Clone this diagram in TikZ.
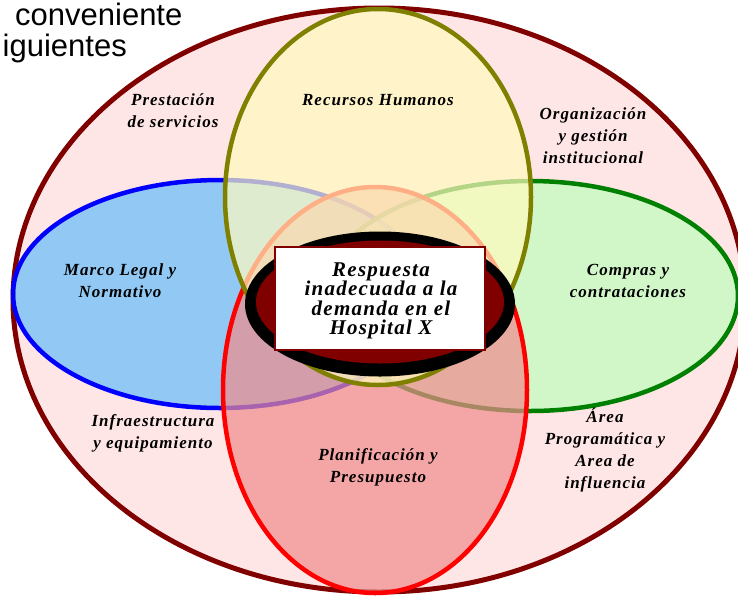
\documentclass[tikz,border=0pt]{standalone}
\usepackage{fontspec}
\setmainfont{Liberation Serif}
\newfontfamily\lblfont{Liberation Serif}[LetterSpace=6]
\newfontfamily\topfont{Liberation Sans}
\usetikzlibrary{shapes.geometric}
\definecolor{maroon}{RGB}{128,0,0}
\definecolor{outerpink}{RGB}{255,230,230}
\definecolor{yellowfill}{RGB}{255,250,190}
\definecolor{bluefill}{RGB}{100,190,250}
\definecolor{greenfill}{RGB}{190,255,190}
\definecolor{redfill}{RGB}{240,140,140}
\definecolor{olive}{RGB}{128,128,0}
\definecolor{dgreen}{RGB}{0,128,0}
\tikzset{
  venn/.style={ellipse, inner sep=0pt, line width=4.5pt, fill opacity=0.7, draw opacity=1},
  lbl/.style={align=center, font=\lblfont\bfseries\itshape\fontsize{17}{22}\selectfont, inner sep=0pt},
  toptext/.style={font=\topfont\fontsize{31}{36}\selectfont, inner sep=0pt}
}
\begin{document}
\begin{tikzpicture}[x=1pt,y=-1pt]
\useasboundingbox (0,0) rectangle (738,595);
\clip (0,0) rectangle (738,595);
\fill[white] (0,0) rectangle (738,595);
% outer ellipse
\node[ellipse, inner sep=0pt, draw=maroon, fill=outerpink, line width=5pt,
      minimum width=732pt, minimum height=584pt] (outer) at (379,300) {};
% four sets
\node[venn, draw=blue, fill=bluefill, minimum width=414pt, minimum height=228pt] (legal) at (220,294) {};
\node[venn, draw=dgreen, fill=greenfill, minimum width=416pt, minimum height=230pt] (compras) at (530,296) {};
\node[venn, draw=red, fill=redfill, minimum width=304pt, minimum height=406pt] (plan) at (375,390) {};
\node[venn, draw=olive, fill=yellowfill, minimum width=306pt, minimum height=376pt] (rrhh) at (378,197) {};
% centre
\node[ellipse, inner sep=0pt, fill=black, minimum width=270pt, minimum height=145pt] (ring) at (380,304) {};
\node[ellipse, inner sep=0pt, fill=maroon, minimum width=248pt, minimum height=123pt] (core) at (380,302) {};
\node[draw=maroon, line width=2pt, fill=white, minimum width=210pt, minimum height=103pt, inner sep=0pt] (box) at (380,298.5) {};
\node[align=center, inner sep=0pt, font=\lblfont\bfseries\itshape\fontsize{21}{19.5}\selectfont] (centre) at (381,301)
  {Respuesta\\inadecuada a la\\demanda en el\\Hospital X};
% labels
\node[lbl] (prest) at (173,111) {Prestación\\de servicios};
\node[lbl] (rh) at (378,100) {Recursos Humanos};
\node[lbl] (org) at (593,136) {Organización\\y gestión\\institucional};
\node[lbl] (marco) at (120,281) {Marco Legal y\\Normativo};
\node[lbl] (comp) at (628,281) {Compras y\\contrataciones};
\node[lbl] (infra) at (153,433) {Infraestructura\\y equipamiento};
\node[lbl] (planl) at (378,467) {Planificación y\\Presupuesto};
\node[lbl] (area) at (605,450) {Área\\Programática y\\Area de\\influencia};
% top-left fragment
\node[toptext, anchor=base west] (t1) at (15,25) {conveniente};
\node[toptext, anchor=base east] (t2) at (127,56) {iguientes};
\end{tikzpicture}
\end{document}
